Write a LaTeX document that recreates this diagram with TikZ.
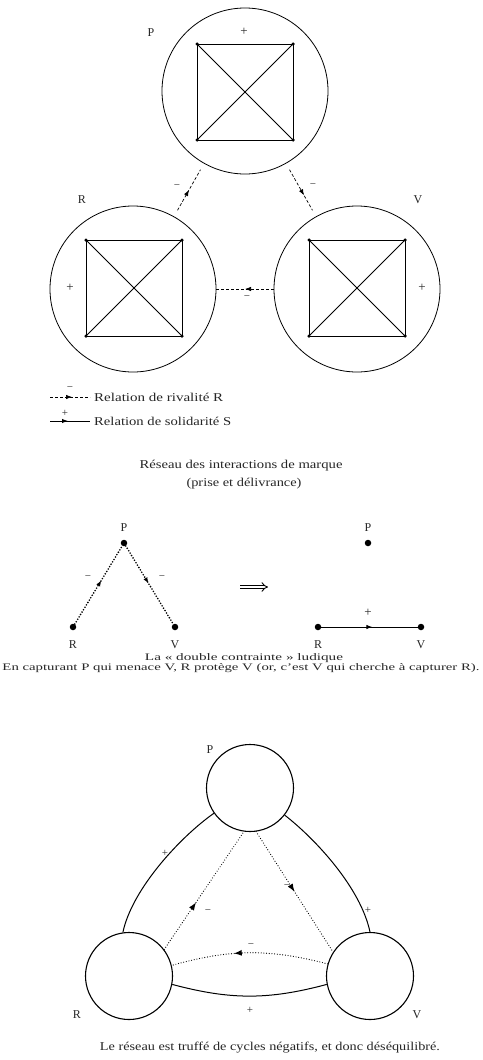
\documentclass[tikz,border=0pt]{standalone}
\usepackage{fontspec}
\setmainfont{Liberation Serif}
\usetikzlibrary{decorations.markings,arrows.meta}
\newcommand\fitw[2]{\resizebox{#1}{\height}{#2}}
\begin{document}
\begin{tikzpicture}[x=1pt,y=-1pt,
 lab/.style={font=\fontsize{12}{12}\selectfont, inner sep=0, text=black!85},
 txt/.style={font=\fontsize{12}{12}\selectfont, inner sep=0, anchor=base, text=black!85},
 stxt/.style={font=\fontsize{10}{10}\selectfont, inner sep=0, anchor=base, text=black!85},
 sgn/.style={font=\fontsize{11}{11}\selectfont, inner sep=0, text=black!85},
 bigc/.style={circle, draw, line width=0.8pt, minimum size=166pt, inner sep=0},
 smallc/.style={circle, draw, line width=1.1pt, minimum size=87pt, inner sep=0},
 corner/.style={circle, fill, inner sep=0, minimum size=3.5pt},
 bdot/.style={circle, fill, inner sep=0, minimum size=6.5pt},
 sq/.style={line width=0.8pt},
 rival/.style={dash pattern=on 3pt off 2pt, line width=0.7pt},
 dotsl/.style={line width=1.8pt, dash pattern=on 0pt off 2.8pt, line cap=round},
 fdots/.style={line width=1.2pt, dash pattern=on 0pt off 2.7pt, line cap=round},
 solidl/.style={line width=1pt},
 implarrow/.style={double, double distance=2.4pt, line width=0.9pt, -{Implies}},
 midarrow/.style={postaction={decorate}, decoration={markings, mark=at position #1 with {\arrow{Latex[length=6pt,width=4.5pt]}}}},
 bigarrow/.style={postaction={decorate}, decoration={markings, mark=at position #1 with {\arrow{Latex[length=8pt,width=6pt]}}}},
]
\useasboundingbox (0,0) rectangle (482,1060);

% ---------- top diagram ----------
\node[bigc] (P) at (245,91) {};
\node[bigc] (R) at (133,289) {};
\node[bigc] (V) at (357,289) {};
\foreach \n/\cx/\cy in {P/245/92, R/134/288, V/357/288} {
  \node[corner] (\n a) at ({\cx-48},{\cy-48}) {};
  \node[corner] (\n b) at ({\cx+48},{\cy-48}) {};
  \node[corner] (\n c) at ({\cx+48},{\cy+48}) {};
  \node[corner] (\n d) at ({\cx-48},{\cy+48}) {};
  \draw[sq] (\n a.center) -- (\n b.center) -- (\n c.center) -- (\n d.center) -- cycle;
  \draw[sq] (\n a.center) -- (\n c.center);
  \draw[sq] (\n b.center) -- (\n d.center);
}
\node[lab] (lP) at (151,33) {P};
\node[lab] (lR) at (82,200) {R};
\node[lab] (lV) at (418,200) {V};
\node[sgn, font=\fontsize{13}{13}\selectfont] (sP) at (244,32) {+};
\node[sgn, font=\fontsize{13}{13}\selectfont] (sR) at (70,288) {+};
\node[sgn, font=\fontsize{13}{13}\selectfont] (sV) at (422,288) {+};

\draw[rival, midarrow=0.5, shorten <=7pt, shorten >=7pt] (R) -- (P);
\draw[rival, midarrow=0.6, shorten <=7pt, shorten >=7pt] (P) -- (V);
\draw[rival, midarrow=0.5] (V) -- (R);
\node[sgn] (m1) at (177,187) {−};
\node[sgn] (m2) at (313,186) {−};
\node[sgn] (m3) at (247,298) {−};

% legend
\coordinate (l1a) at (50,397); \coordinate (l1b) at (90,397);
\draw[rival, midarrow=0.55] (l1a) -- (l1b);
\node[sgn] (lm) at (70,389) {−};
\node[txt, anchor=base west] (t1) at (94,401) {\fitw{129pt}{Relation de rivalité R}};
\coordinate (l2a) at (50,421); \coordinate (l2b) at (90,421);
\draw[solidl, midarrow=0.45] (l2a) -- (l2b);
\node[sgn] (lp) at (65,413) {+};
\node[txt, anchor=base west] (t2) at (94,425) {\fitw{137pt}{Relation de solidarité S}};

\node[txt] (c1a) at (241,468) {\fitw{203pt}{Réseau des interactions de marque}};
\node[txt] (c1b) at (244,486) {\fitw{115pt}{(prise et délivrance)}};

% ---------- middle diagram ----------
\node[bdot] (mP) at (124,543) {};
\node[bdot] (mR) at (73,627) {};
\node[bdot] (mV) at (175,627) {};
\node[lab] at (124,528) {P};
\node[lab] at (73,645) {R};
\node[lab] at (175,645) {V};
\draw[dotsl, midarrow=0.56] (mR) -- (mP);
\draw[dotsl, midarrow=0.48] (mP) -- (mV);
\node[sgn] at (88,578) {−};
\node[sgn] at (162,578) {−};

\coordinate (ia) at (240,587); \coordinate (ib) at (268,587);
\draw[implarrow] (ia) -- (ib);

\node[bdot] (mP2) at (368,543) {};
\node[bdot] (mR2) at (318,627) {};
\node[bdot] (mV2) at (421,627) {};
\node[lab] at (368,528) {P};
\node[lab] at (318,645) {R};
\node[lab] at (421,645) {V};
\draw[solidl, midarrow=0.53] (mR2) -- (mV2);
\node[sgn, font=\fontsize{13}{13}\selectfont] at (368,613) {+};

\node[stxt] (c2a) at (244,660) {\fitw{198pt}{La « double contrainte » ludique}};
\node[stxt] (c2b) at (241,670) {\fitw{477pt}{En capturant P qui menace V, R protège V (or, c’est V qui cherche à capturer R).}};

% ---------- bottom diagram ----------
\node[smallc] (bP) at (250,788) {};
\node[smallc] (bR) at (129,976) {};
\node[smallc] (bV) at (370,976) {};
\node[lab] at (210,750) {P};
\node[lab] at (77,1015) {R};
\node[lab] at (417,1015) {V};

\draw[solidl] (bP.215) .. controls +(145:40) and +(-78:45) .. (bR.98);
\draw[solidl] (bP.322) .. controls +(38:40) and +(-102:45) .. (bV.90);
\node[sgn] at (165,853) {+};
\node[sgn] at (368,910) {+};

\draw[fdots, bigarrow=0.4] (bR.37) -- (bP.262);
\draw[fdots, bigarrow=0.5] (bP.278) -- (bV.147);
\node[sgn] at (208,912) {−};
\node[sgn] at (287,887) {−};

\draw[fdots, bigarrow=0.6] (bV.164) to[bend right=15] (bR.14);
\node[sgn] at (251,946) {−};
\draw[solidl] (bR.349) to[bend right=15] (bV.191);
\node[sgn] at (250,1010) {+};

\node[txt] (c3) at (270,1050) {\fitw{340pt}{Le réseau est truffé de cycles négatifs, et donc déséquilibré.}};
\end{tikzpicture}
\end{document}
